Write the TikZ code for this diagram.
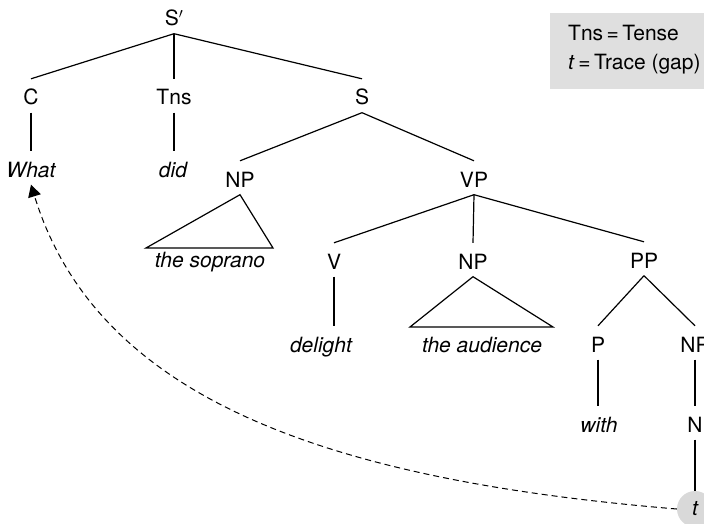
\documentclass[tikz,border=0pt]{standalone}
\usepackage{fontspec}
\setmainfont{TeX Gyre Heros}
\usetikzlibrary{arrows.meta}
\begin{document}
\begin{tikzpicture}[x=1pt,y=-1pt,
  lab/.style={anchor=base,inner sep=0pt,text height=26pt,text depth=7.5pt,font=\fontsize{21}{25}\selectfont},
  word/.style={lab,font=\fontsize{21}{25}\selectfont\itshape},
  edge/.style={line width=1.2pt},
  move/.style={line width=1pt,dash pattern=on 6pt off 4pt,-{Triangle[length=12pt,width=13pt]}}]
\useasboundingbox (0,0) rectangle (704,524);
% legend
\fill[gray!25] (550,13) rectangle (715,89);
\node[lab,anchor=base west] (leg1) at (568,41) {Tns\,=\,Tense};
\node[lab,anchor=base west] (leg2) at (568,70) {\textit{t}\,=\,Trace (gap)};
% nodes
\node[lab] (sp) at (174,26) {S$^{\prime}$};
\node[lab] (c) at (31,105) {C};
\node[lab] (tns) at (174,105) {Tns};
\node[lab] (s) at (362,105) {S};
\node[word] (what) at (31,177) {What};
\node[word] (did) at (173,177) {did};
\node[lab] (np1) at (240,187) {NP};
\node[lab] (vp) at (474,187) {VP};
\node[word] (sop) at (210,267) {the soprano};
\node[lab] (v) at (334,269) {V};
\node[lab] (np2) at (473,269) {NP};
\node[lab] (pp) at (644,268) {PP};
\node[word] (del) at (321,352) {delight};
\node[word] (aud) at (482,352) {the audience};
\node[lab] (p) at (598,352) {P};
\node[lab] (np3) at (695,352) {NP};
\node[word] (with) at (599,432) {with};
\node[lab] (n) at (695,432) {N};
\node[circle,fill=gray!30,minimum size=36pt,inner sep=0pt,font=\fontsize{21}{25}\selectfont\itshape] (tr) at (695,509) {t};
% triangle corners
\coordinate (t1l) at (146,248);
\coordinate (t1r) at (273,248);
\coordinate (t2l) at (410,327);
\coordinate (t2r) at (553,327);
% edges
\draw[edge] (sp.south) -- (c.north);
\draw[edge] (sp.south) -- (tns.north);
\draw[edge] (sp.south) -- (s.north);
\draw[edge] (c.south) -- (what.north);
\draw[edge] (tns.south) -- (tns.south |- did.north);
\draw[edge] (s.south) -- (np1.north);
\draw[edge] (s.south) -- (vp.north);
\draw[edge] (np1.south) -- (t1l) -- (t1r) -- cycle;
\draw[edge] (vp.south) -- (v.north);
\draw[edge] (vp.south) -- (np2.north);
\draw[edge] (vp.south) -- (pp.north);
\draw[edge] (v.south) -- (v.south |- del.north);
\draw[edge] (np2.south) -- (t2l) -- (t2r) -- cycle;
\draw[edge] (pp.south) -- (p.north);
\draw[edge] (pp.south) -- (np3.north);
\draw[edge] (p.south) -- (p.south |- with.north);
\draw[edge] (np3.south) -- (n.north);
\draw[edge] (n.south) -- (tr.north);
% movement
\draw[move] (tr.west) .. controls (327,480) and (97,399) .. (what.south);
\end{tikzpicture}
\end{document}
